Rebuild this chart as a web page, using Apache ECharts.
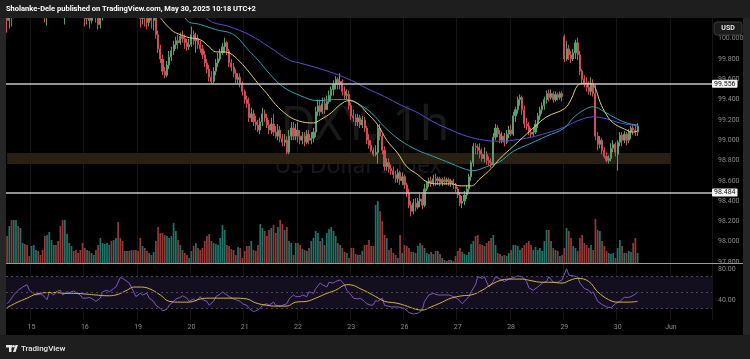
<!DOCTYPE html>
<html><head><meta charset="utf-8">
<script src="https://cdn.jsdelivr.net/npm/echarts@6/dist/echarts.min.js"></script>
<style>html,body{margin:0;padding:0;background:#000;}#c{width:750px;height:359px;}</style>
</head><body><div id="c"></div><script>
// ---- time axis ----
const days = ['14','15','16','19','20','21','22','23','26','27','28','29','30','Jun'];
const firstSessionHour = 13;
const lastAxisHour = 18;
const dayLabels = ['15','16','19','20','21','22','23','26','27','28','29','30','Jun'];

// ---- hourly candles [open, close, low, high] in hundredths ----
const may14 = [[10025,10018,10006,10032],[10018,10028,10010,10033],[10028,10024,10012,10035],[10024,10035,10020,10040],[10035,10042,10030,10048],[10042,10038,10032,10050],[10038,10046,10034,10052],[10046,10050,10040,10058],[10050,10044,10036,10055],[10044,10040,10028,10048],[10040,10036,10026,10045]];
const may15 = [[10036,10042,10030,10048],[10042,10048,10038,10055],[10048,10052,10044,10060],[10052,10045,10040,10058],[10045,10038,10030,10050],[10038,10030,10022,10042],[10030,10024,10016,10034],[10024,10030,10013,10036],[10030,10038,10026,10044],[10038,10045,10034,10050],[10045,10052,10040,10058],[10052,10048,10040,10056],[10048,10040,10034,10054],[10040,10034,10026,10044],[10034,10028,10020,10040],[10028,10036,10014,10040],[10036,10042,10030,10048],[10042,10050,10038,10056],[10050,10058,10046,10064],[10058,10055,10048,10062],[10055,10048,10040,10060],[10048,10040,10034,10052],[10040,10034,10026,10044],[10034,10030,10022,10038]];
const may16 = [[10030,10020,10012,10034],[10020,10026,10014,10030],[10026,10018,10010,10030],[10018,10028,10015,10032],[10028,10034,10022,10040],[10034,10024,10016,10038],[10024,10014,10009,10028],[10014,10024,10010,10030],[10024,10034,10018,10040],[10034,10044,10030,10050],[10044,10052,10040,10058],[10052,10060,10048,10066],[10060,10056,10050,10066],[10056,10064,10052,10070],[10064,10070,10058,10076],[10070,10062,10056,10074],[10062,10056,10048,10066],[10056,10050,10044,10060],[10050,10054,10044,10060],[10054,10048,10040,10058],[10048,10044,10036,10052],[10044,10050,10038,10056],[10050,10046,10040,10054],[10046,10040,10032,10050]];
const may19 = [[10040,10030,10022,10044],[10030,10020,10011,10034],[10020,10028,10014,10032],[10028,10022,10012,10032],[10022,10016,10009,10028],[10016,10024,10012,10028],[10024,10018,10010,10030],[10018,10022,10008,10028],[10022,10004,10000,10026],[10004,9990,9986,10008],[9990,9980,9976,9994],[9980,9968,9964,9984],[9968,9964,9961,9972],[9964,9974,9962,9978],[9974,9982,9970,9988],[9982,9988,9978,9992],[9988,9994,9984,9998],[9994,9998,9990,10002],[9998,9996,9990,10004],[9996,10002,9994,10006],[10002,10000,9996,10008],[10000,9996,9990,10004],[9996,9992,9988,10000],[9992,9994,9989,10000]];
const may20 = [[9994,10004,9992,10012],[10004,9998,9994,10008],[9998,10000,9986,10006],[10000,9994,9990,10004],[9994,9990,9986,9998],[9990,9984,9980,9994],[9984,9976,9972,9988],[9976,9970,9966,9980],[9970,9962,9958,9974],[9962,9958,9955,9968],[9958,9968,9956,9972],[9968,9976,9964,9980],[9976,9980,9972,9986],[9980,9986,9978,9990],[9986,9992,9984,9996],[9992,9996,9986,10001],[9996,9988,9984,9998],[9988,9976,9972,9990],[9976,9972,9968,9980],[9972,9966,9962,9976],[9966,9960,9956,9970],[9960,9962,9956,9966],[9962,9956,9952,9966],[9956,9948,9944,9958]];
const may21 = [[9948,9940,9936,9950],[9940,9936,9932,9944],[9936,9922,9918,9942],[9922,9926,9918,9932],[9926,9918,9914,9930],[9918,9915,9910,9924],[9915,9910,9908,9920],[9910,9918,9906,9922],[9918,9926,9914,9932],[9926,9922,9918,9930],[9922,9915,9912,9926],[9915,9910,9906,9920],[9910,9916,9906,9922],[9916,9908,9904,9926],[9908,9904,9902,9914],[9904,9910,9900,9916],[9910,9902,9898,9914],[9902,9898,9894,9906],[9898,9900,9894,9906],[9900,9888,9886,9904],[9888,9904,9886,9910],[9904,9912,9900,9918],[9912,9904,9900,9918],[9904,9910,9900,9916]];
const may22 = [[9910,9904,9898,9918],[9904,9900,9896,9910],[9900,9904,9896,9908],[9904,9898,9894,9908],[9898,9906,9896,9910],[9906,9900,9896,9910],[9900,9902,9896,9908],[9902,9908,9898,9912],[9908,9928,9903,9933],[9928,9934,9924,9940],[9934,9928,9924,9940],[9928,9936,9926,9942],[9936,9930,9926,9942],[9930,9938,9930,9944],[9938,9944,9936,9949],[9944,9950,9938,9953],[9950,9955,9944,9959],[9955,9960,9950,9963],[9960,9955,9950,9962],[9955,9958,9950,9966],[9958,9948,9944,9960],[9948,9944,9940,9953],[9944,9945,9940,9950],[9945,9934,9930,9949]];
const may23 = [[9934,9924,9920,9937],[9924,9922,9918,9930],[9922,9918,9914,9926],[9918,9922,9914,9926],[9922,9915,9912,9925],[9915,9920,9912,9924],[9920,9912,9908,9923],[9912,9900,9896,9914],[9900,9895,9892,9906],[9895,9890,9888,9900],[9890,9886,9884,9893],[9886,9888,9884,9895],[9888,9912,9877,9915],[9912,9904,9900,9916],[9904,9890,9886,9906],[9890,9874,9870,9894],[9874,9878,9870,9882],[9878,9872,9868,9882],[9872,9870,9866,9876],[9870,9866,9862,9874],[9866,9862,9858,9870],[9862,9868,9858,9872],[9868,9860,9856,9870],[9860,9864,9856,9868]];
const may26 = [[9864,9856,9852,9866],[9856,9848,9844,9858],[9848,9836,9833,9852],[9836,9830,9825,9840],[9830,9838,9827,9842],[9838,9834,9830,9843],[9834,9840,9832,9843],[9840,9842,9834,9847],[9842,9836,9832,9847],[9836,9852,9834,9857],[9852,9858,9850,9860],[9858,9860,9854,9863],[9860,9858,9854,9864],[9858,9862,9855,9866],[9862,9860,9855,9867],[9860,9862,9856,9864],[9862,9858,9855,9864],[9858,9861,9855,9863],[9861,9859,9856,9864],[9859,9861,9856,9863],[9861,9858,9855,9863],[9858,9860,9854,9862],[9860,9856,9852,9862],[9856,9852,9849,9858]];
const may27 = [[9852,9846,9843,9854],[9846,9838,9835,9849],[9838,9840,9833,9845],[9840,9846,9836,9850],[9846,9852,9842,9856],[9852,9864,9848,9867],[9864,9878,9860,9880],[9878,9894,9874,9897],[9894,9893,9886,9897],[9893,9890,9886,9896],[9890,9886,9882,9897],[9886,9882,9879,9892],[9882,9886,9878,9893],[9886,9880,9876,9889],[9880,9878,9875,9884],[9878,9876,9873,9882],[9876,9903,9875,9907],[9903,9912,9900,9916],[9912,9906,9903,9915],[9906,9900,9897,9910],[9900,9904,9897,9908],[9904,9898,9894,9907],[9898,9906,9896,9910],[9906,9910,9902,9914]];
const may28 = [[9910,9906,9904,9915],[9906,9924,9904,9928],[9924,9930,9918,9933],[9930,9940,9926,9943],[9940,9942,9934,9945],[9942,9930,9925,9944],[9930,9916,9912,9934],[9916,9914,9910,9922],[9914,9908,9905,9918],[9908,9906,9903,9912],[9906,9908,9904,9913],[9908,9916,9906,9920],[9916,9924,9912,9927],[9924,9930,9920,9933],[9930,9934,9926,9937],[9934,9940,9930,9943],[9940,9946,9936,9949],[9946,9942,9938,9950],[9942,9946,9940,9950],[9946,9940,9937,9948],[9940,9945,9938,9948],[9945,9942,9939,9947],[9942,9946,9940,9948],[9946,9943,9938,9948]];
const may29 = [[10002,9980,9977,10004],[9980,9990,9978,9998],[9990,9984,9979,9994],[9984,9980,9976,9988],[9980,9986,9978,9990],[9986,9996,9980,9999],[9996,9984,9979,10001],[9984,9968,9964,9988],[9968,9960,9955,9970],[9960,9956,9952,9964],[9956,9952,9948,9962],[9952,9948,9945,9958],[9948,9956,9944,9962],[9956,9946,9943,9960],[9946,9904,9900,9956],[9904,9896,9890,9908],[9896,9900,9892,9904],[9900,9890,9886,9902],[9890,9884,9882,9893],[9884,9880,9878,9888],[9880,9882,9877,9885],[9882,9892,9879,9897],[9892,9896,9888,9900],[9896,9888,9884,9898]];
const may30 = [[9886,9898,9870,9900],[9898,9905,9894,9908],[9905,9900,9894,9908],[9900,9906,9897,9909],[9906,9900,9895,9908],[9900,9908,9897,9911],[9908,9912,9901,9914],[9912,9910,9905,9916],[9910,9908,9904,9915],[9908,9914,9904,9917]];

// ---- volume (relative) ----
const volume = [27,37,43,43,43,37,35,20,19,18, 7,17,18,13,12,8,13,27,28,31, 23,18,18,22,37,43,43,29,20,17,
 12,13,10,13,20,15,13,12,10,8, 13,18,25,20,19,20,18,22,23,25, 41,25,22,12,12,12,13,13,13,12,
 25,17,15,12,10,8,11,22,36,30, 30,28,27,25,27,40,32,23,18,13, 10,8,5,12,17,20,15,13,15,22,
 27,29,22,20,19,18,25,38,33,18, 17,14,13,8,16,15,5,12,17,17, 22,13,12,18,39,35,32,27,33,35,
 38,30,36,43,39,33,36,22,20,8, 20,20,18,14,13,12,15,22,25,32, 30,22,25,18,30,34,36,32,27,20,
 18,15,11,10,5,15,15,9,8,8, 12,18,18,23,17,17,
 58,62,52,42,28,25,13,15,10,8, 5,28,10,18,17,15,11,11,10,17, 20,18,15,10,9,11,9,12,12,9,
 5,3,2,3,3,2,7,12,15,11, 9,8,11,19,22,27,28,19,18,17, 20,22,25,28,18,10,9,7,8,7,
 10,13,18,18,17,13,15,18,20,22, 18,13,16,13,15,12,22,33,33,22, 15,13,12,7,8,15,35,32,25,17,
 15,12,25,28,20,18,15,18,13,44, 33,32,22,17,12,10,9,10,5,15, 23,17,10,10,12,11,20,25,10];

// ---- moving averages [bar index, value in hundredths] ----
const emaFast = [[66,10030],[70,10018],[72,10013],[75,10007],[78,10004],[82,10001],[87,9999],[91,9992],[94,9987],[97,9987],[100,9986],[105,9977],[109,9967],[113,9956],[117,9946],[121,9935],[126,9925],[129,9921],[133,9918],[138,9917],[141,9920],[146,9927],[150,9935],[154,9939],[158,9936],[162,9927],[167,9915],[171,9900],[176,9887],[180,9874],[185,9866],[189,9859],[194,9857],[200,9857],[204,9855],[209,9855],[213,9862],[218,9872],[222,9882],[228,9894],[236,9910],[243,9923],[251,9931],[254,9940],[257,9954],[260,9956],[263,9956],[265,9951],[267,9938],[270,9925],[273,9917],[278,9911],[282,9908],[284,9909]];
const emaMid = [[76,10040],[81,10018],[87,10014],[94,10009],[102,10004],[109,9988],[113,9979],[118,9966],[124,9953],[132,9944],[140,9939],[147,9940],[153,9940],[158,9936],[164,9927],[170,9913],[177,9900],[185,9890],[192,9884],[200,9877],[207,9871],[210,9870],[216,9874],[222,9879],[228,9889],[236,9897],[243,9904],[251,9912],[255,9922],[260,9930],[264,9933],[269,9928],[273,9923],[279,9917],[284,9915]];
const emaSlow = [[84,10035],[91,10018],[100,10012],[109,10004],[118,9992],[127,9979],[132,9976],[140,9971],[147,9966],[155,9959],[162,9951],[170,9943],[177,9935],[185,9927],[192,9918],[200,9910],[207,9904],[215,9900],[222,9899],[228,9900],[236,9903],[243,9907],[251,9913],[258,9920],[264,9923],[270,9921],[276,9917],[284,9914]];

// ---- RSI [bar index, value] ----
const rsi = [[0,36],[1,39],[3,47],[5,53],[7,57],[9,60],[10,53],[12,49],[13,47],[15,48],[16,47],[18,41],[19,51],[21,47],[22,51],[24,53],[25,47],[27,51],[28,50],[30,52],[31,50],[33,47],[34,43],[36,43],[37,44],[39,41],[40,39],[42,43],[43,51],[45,53],[46,51],[48,55],[49,57],[51,69],[52,68],[54,64],[55,62],[57,51],[58,45],[60,49],[61,47],[63,49],[64,43],[66,39],[67,34],[69,30],[70,27],[72,29],[73,34],[75,39],[76,42],[78,44],[79,46],[81,43],[82,39],[84,42],[85,39],[87,45],[88,41],[90,39],[91,34],[93,39],[94,45],[96,48],[97,51],[99,47],[100,45],[102,42],[103,41],[105,39],[106,36],[108,34],[109,30],[111,26],[112,27],[114,30],[115,34],[117,36],[118,34],[120,38],[121,34],[123,33],[124,34],[126,36],[127,42],[129,47],[130,45],[132,45],[133,47],[135,45],[136,51],[138,49],[139,55],[141,62],[142,60],[144,57],[145,63],[147,62],[148,64],[150,66],[152,60],[153,53],[155,47],[156,43],[158,42],[159,43],[161,39],[162,36],[164,34],[165,35],[166,40],[167,39],[169,43],[170,34],[173,32],[176,32],[179,30],[181,25],[183,23],[185,24],[187,28],[188,39],[190,47],[192,49],[194,47],[197,47],[199,47],[201,45],[203,42],[205,36],[206,39],[208,45],[209,51],[211,60],[212,70],[214,68],[215,70],[217,57],[219,64],[220,70],[222,67],[224,64],[226,67],[229,70],[230,71],[232,70],[234,64],[235,56],[237,53],[239,57],[241,62],[243,64],[244,70],[246,63],[248,63],[250,66],[252,80],[253,72],[255,71],[257,70],[258,62],[260,55],[262,53],[263,49],[264,51],[266,39],[268,35],[270,32],[272,31],[274,36],[276,39],[278,44],[280,44],[281,45],[283,48],[284,51]];
const rsiMa = [[0,31],[4,37],[9,43],[13,48],[18,50],[22,50],[27,49],[31,49],[36,48],[40,47],[45,46],[49,47],[54,53],[57,57],[60,57],[64,55],[69,47],[73,39],[78,38],[82,38],[87,42],[91,43],[96,43],[102,43],[108,42],[112,37],[117,34],[121,33],[126,33],[130,38],[135,39],[139,43],[144,49],[148,53],[153,60],[156,59],[159,55],[162,51],[166,45],[170,39],[175,37],[179,34],[184,29],[187,28],[191,32],[196,38],[200,43],[205,46],[209,47],[214,53],[218,60],[223,66],[227,67],[232,67],[236,65],[241,63],[245,63],[250,62],[254,66],[257,68],[262,64],[266,51],[271,41],[275,38],[280,38],[284,39]];

// ---- levels / ticks ----
const levels = [99.556, 98.484];
const zone = [98.765, 98.874];
const zoneEndDay = 'Jun';
const priceTicks = [97.8, 98.0, 98.2, 98.4, 98.6, 98.8, 99.0, 99.2, 99.4, 99.6, 99.8, 100.0];
const rsiTicks = [40, 80];
const rsiLevels = [30, 50, 70];

// ---- build ----
const categories = [];
days.forEach((d, k) => {
  const from = k === 0 ? firstSessionHour : 0;
  const to = k === days.length - 1 ? lastAxisHour : 23;
  for (let h = from; h <= to; h++) categories.push(d + ' ' + String(h).padStart(2, '0') + ':00');
});
const isDayStart = (i, v) => / 00:00$/.test(v) && dayLabels.indexOf(v.split(' ')[0]) >= 0;
const candles = [].concat(may14, may15, may16, may19, may20, may21, may22, may23, may26, may27, may28, may29, may30)
  .map(c => c.map(v => v / 100));
const UP = '#5b9e6b', DOWN = '#cf4d55';
const VUP = '#1d7469', VDOWN = '#913a38';
const volData = volume.map((v, i) => ({ value: v, itemStyle: { color: candles[i][1] >= candles[i][0] ? VUP : VDOWN } }));
const toPrice = arr => arr.map(p => [p[0], p[1] / 100]);
const zoneEnd = categories.indexOf(zoneEndDay + ' 00:00');

const FONT = 'Roboto';
function xAx(grid, labels, split) {
  return {
    type: 'category', gridIndex: grid, data: categories, boundaryGap: true,
    axisLine: { show: false }, axisTick: { show: false },
    axisLabel: { show: labels, interval: isDayStart, formatter: v => v.split(' ')[0], color: '#8c8c8c', fontSize: 7, margin: 4, fontFamily: FONT },
    splitLine: { show: split, interval: isDayStart, lineStyle: { color: '#151515', width: 1 } }
  };
}

const chart = echarts.init(document.getElementById('c'), null, { renderer: 'canvas' });
chart.setOption({
  backgroundColor: '#000',
  animation: false,
  grid: [
    { left: 6, right: 38, top: 18, height: 245 },
    { left: 6, right: 38, top: 200, height: 63 },
    { left: 6, right: 38, top: 264, height: 56 }
  ],
  xAxis: [xAx(0, false, true), xAx(1, false, false), xAx(2, true, true)],
  yAxis: [
    { type: 'value', gridIndex: 0, position: 'right', min: 97.790, max: 100.204,
      axisLine: { show: false }, axisTick: { show: false }, splitLine: { show: false },
      axisLabel: { customValues: priceTicks, formatter: v => v.toFixed(3), color: '#8c8c8c', fontSize: 7, margin: 6, fontFamily: FONT } },
    { type: 'value', gridIndex: 1, min: 0, max: 63, show: false },
    { type: 'value', gridIndex: 2, position: 'right', min: 15.5, max: 86,
      axisLine: { show: false }, axisTick: { show: false }, splitLine: { show: false },
      axisLabel: { customValues: rsiTicks, formatter: v => v.toFixed(2), color: '#8c8c8c', fontSize: 7, margin: 6, fontFamily: FONT } }
  ],
  series: [
    { type: 'bar', xAxisIndex: 1, yAxisIndex: 1, data: volData, barWidth: '78%', silent: true },
    { type: 'candlestick', xAxisIndex: 0, yAxisIndex: 0, data: candles, barWidth: 1.6, silent: true,
      itemStyle: { color: UP, color0: DOWN, borderColor: UP, borderColor0: DOWN, borderWidth: 1 },
      markArea: { silent: true, itemStyle: { color: '#282012' },
        data: [[{ coord: [0, zone[0]] }, { coord: [zoneEnd, zone[1]] }]] },
      markLine: { silent: true, symbol: ['none', 'none'], animation: false, precision: 3,
        lineStyle: { color: '#c4c4c4', width: 1.5, type: 'solid' },
        label: { position: 'end', distance: 0, formatter: p => p.name, color: '#111', backgroundColor: '#f4f4f4',
          padding: [1, 2, 0, 2], fontSize: 7, fontFamily: FONT, borderRadius: 1 },
        data: levels.map(v => ({ yAxis: v, name: v.toFixed(3) })) } },
    { type: 'line', xAxisIndex: 0, yAxisIndex: 0, data: toPrice(emaSlow), symbol: 'none', smooth: 0.4, silent: true,
      lineStyle: { color: '#5a4fd0', width: 1 } },
    { type: 'line', xAxisIndex: 0, yAxisIndex: 0, data: toPrice(emaMid), symbol: 'none', smooth: 0.4, silent: true,
      lineStyle: { color: '#2fa3b5', width: 1 } },
    { type: 'line', xAxisIndex: 0, yAxisIndex: 0, data: toPrice(emaFast), symbol: 'none', smooth: 0.4, silent: true,
      lineStyle: { color: '#e2cf78', width: 1 } },
    { type: 'line', xAxisIndex: 2, yAxisIndex: 2, data: rsi, symbol: 'none', silent: true,
      lineStyle: { color: '#7e57c2', width: 1 },
      markArea: { silent: true, itemStyle: { color: '#130f1f' }, data: [[{ yAxis: rsiLevels[0] }, { yAxis: rsiLevels[2] }]] },
      markLine: { silent: true, symbol: ['none', 'none'], label: { show: false },
        lineStyle: { color: '#4a4656', width: 1, type: [2, 3] }, data: rsiLevels.map(v => ({ yAxis: v })) } },
    { type: 'line', xAxisIndex: 2, yAxisIndex: 2, data: rsiMa, symbol: 'none', smooth: 0.4, silent: true,
      lineStyle: { color: '#d6b44a', width: 1 } }
  ],
  graphic: [
    { type: 'text', z: -1, silent: true, x: 365, y: 126, style: { text: 'DXY, 1h', fill: '#191919', font: '48px "Noto Sans"', align: 'center', verticalAlign: 'middle' } },
    { type: 'text', z: -1, silent: true, x: 358, y: 166, style: { text: 'US Dollar Index', fill: '#191919', font: '23px "Noto Sans"', align: 'center', verticalAlign: 'middle' } },
    { type: 'rect', silent: true, z: 10, shape: { x: 0, y: 0, width: 750, height: 18 }, style: { fill: '#1e1e1e' } },
    { type: 'rect', silent: true, z: 10, shape: { x: 0, y: 335, width: 750, height: 24 }, style: { fill: '#1e1e1e' } },
    { type: 'rect', silent: true, z: 10, shape: { x: 0, y: 18, width: 6, height: 317 }, style: { fill: '#262626' } },
    { type: 'rect', silent: true, z: 10, shape: { x: 743, y: 18, width: 7, height: 317 }, style: { fill: '#262626' } },
    { type: 'line', silent: true, z: 10, shape: { x1: 6, y1: 263.5, x2: 743, y2: 263.5 }, style: { stroke: '#9a9a9a', lineWidth: 1 } },
    { type: 'text', silent: true, z: 11, x: 6, y: 9.5, style: { text: 'Sholanke-Dele published on TradingView.com, May 30, 2025 10:18 UTC+2', fill: '#ffffff', font: 'bold 7.5px Roboto', align: 'left', verticalAlign: 'middle' } },
    { type: 'rect', silent: true, z: 11, shape: { x: 714, y: 22, width: 28, height: 13, r: 3 }, style: { fill: '#1b1b1b', stroke: '#3c3c3c', lineWidth: 1 } },
    { type: 'text', silent: true, z: 12, x: 728, y: 28.5, style: { text: 'USD', fill: '#e6e6e6', font: 'bold 7px Roboto', align: 'center', verticalAlign: 'middle' } },
    { type: 'rect', silent: true, z: 11, shape: { x: 6, y: 345, width: 6, height: 2.5 }, style: { fill: '#e6e6e6' } },
    { type: 'rect', silent: true, z: 11, shape: { x: 9, y: 345, width: 2.5, height: 7 }, style: { fill: '#e6e6e6' } },
    { type: 'circle', silent: true, z: 11, shape: { cx: 13.5, cy: 346.3, r: 1.3 }, style: { fill: '#e6e6e6' } },
    { type: 'polygon', silent: true, z: 11, shape: { points: [[15.5, 345], [18, 345], [15.5, 352], [13, 352]] }, style: { fill: '#e6e6e6' } },
    { type: 'text', silent: true, z: 11, x: 21, y: 348.5, style: { text: 'TradingView', fill: '#e6e6e6', font: '500 8px Roboto', align: 'left', verticalAlign: 'middle' } }
  ]
});
</script></body></html>
